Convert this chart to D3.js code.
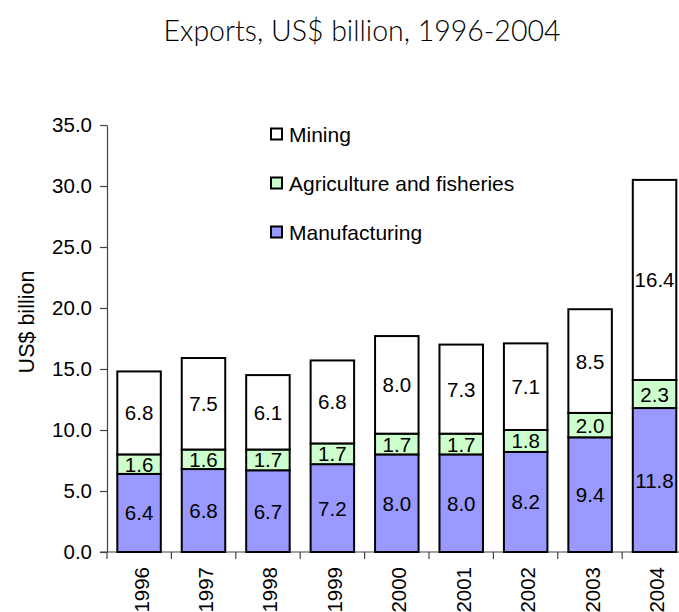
<!DOCTYPE html>
<html>
<head>
<meta charset="utf-8">
<script src="https://cdn.jsdelivr.net/npm/d3@7"></script>
<style>
  html, body { margin: 0; padding: 0; background: #fff; }
  svg { display: block; }
</style>
</head>
<body>
<svg id="chart" width="679" height="612"></svg>
<script>
// Export values by sector, US$ billion
const years = ["1996", "1997", "1998", "1999", "2000", "2001", "2002", "2003", "2004"];
const manufacturing = [6.4, 6.8, 6.7, 7.2, 8.0, 8.0, 8.2, 9.4, 11.8];
const agriculture = [1.6, 1.6, 1.7, 1.7, 1.7, 1.7, 1.8, 2.0, 2.3];
const mining = [6.8, 7.5, 6.1, 6.8, 8.0, 7.3, 7.1, 8.5, 16.4];
const yTicks = [0, 5, 10, 15, 20, 25, 30, 35];

const seriesNames = ["Manufacturing", "Agriculture and fisheries", "Mining"];
const seriesColors = ["#9999FF", "#CCFFCC", "#FFFFFF"];
const legendOrder = ["Mining", "Agriculture and fisheries", "Manufacturing"];

const rows = years.map((y, i) => ({
  year: y,
  "Manufacturing": manufacturing[i],
  "Agriculture and fisheries": agriculture[i],
  "Mining": mining[i]
}));

const svg = d3.select("#chart");
const font = "'Liberation Sans', Arial, sans-serif";
const fs = "20.5px";

const x0 = 107, yBottom = 552, yTop = 125;
const band = 64.4;
const x = d3.scaleBand().domain(years).range([x0, x0 + band * years.length]).paddingInner(0.325).paddingOuter(0.16);
const y = d3.scaleLinear().domain([0, 35]).range([yBottom, yTop]);
const color = d3.scaleOrdinal().domain(seriesNames).range(seriesColors);

const stacked = d3.stack().keys(seriesNames)(rows);

// Title
svg.append("text")
  .attr("x", 362).attr("y", 41)
  .attr("text-anchor", "middle")
  .style("font-family", "Lato, 'Open Sans', sans-serif")
  .style("font-weight", 300)
  .style("font-size", "28.5px")
  .attr("fill", "#000")
  .text("Exports, US$ billion, 1996-2004");

// Y axis
const yAxis = svg.append("g")
  .attr("transform", `translate(${x0},0)`)
  .call(d3.axisLeft(y).tickValues(yTicks).tickFormat(d3.format(".1f")).tickSize(7).tickSizeOuter(0));
yAxis.select(".domain").attr("stroke", "#444").attr("stroke-width", 1.2);
yAxis.selectAll(".tick line").attr("stroke", "#444").attr("stroke-width", 1.2);
yAxis.selectAll(".tick text")
  .attr("x", -15)
  .style("font-family", font).style("font-size", fs).attr("fill", "#000");

// X axis with ticks between categories
const xAxisG = svg.append("g");
xAxisG.append("line")
  .attr("x1", x0 - 7).attr("x2", x0 + band * years.length)
  .attr("y1", yBottom).attr("y2", yBottom)
  .attr("stroke", "#444").attr("stroke-width", 1.2);
xAxisG.selectAll("line.sep")
  .data(d3.range(years.length + 1))
  .join("line")
  .attr("class", "sep")
  .attr("x1", i => x0 + band * i).attr("x2", i => x0 + band * i)
  .attr("y1", yBottom).attr("y2", yBottom + 7)
  .attr("stroke", "#444").attr("stroke-width", 1.2);
xAxisG.selectAll("text")
  .data(years)
  .join("text")
  .attr("transform", d => `translate(${x(d) + x.bandwidth() / 2 + 2},${yBottom + 15}) rotate(-90)`)
  .attr("text-anchor", "end")
  .attr("dominant-baseline", "central")
  .style("font-family", font).style("font-size", fs)
  .text(d => d);

// Y axis title
svg.append("text")
  .attr("transform", `translate(34,322) rotate(-90)`)
  .attr("text-anchor", "middle")
  .style("font-family", font).style("font-size", "21.5px")
  .text("US$ billion");

// Stacked bars
const layers = svg.append("g").selectAll("g")
  .data(stacked)
  .join("g")
  .attr("fill", d => color(d.key));

layers.selectAll("rect")
  .data(d => d)
  .join("rect")
  .attr("x", d => x(d.data.year))
  .attr("width", x.bandwidth())
  .attr("y", d => y(d[1]))
  .attr("height", d => y(d[0]) - y(d[1]))
  .attr("stroke", "#000")
  .attr("stroke-width", 2);

// Segment value labels
layers.selectAll("text")
  .data(d => d.map(v => ({ v, key: d.key })))
  .join("text")
  .attr("x", d => x(d.v.data.year) + x.bandwidth() / 2)
  .attr("y", d => (y(d.v[0]) + y(d.v[1])) / 2)
  .attr("text-anchor", "middle")
  .attr("dominant-baseline", "central")
  .attr("fill", "#000")
  .style("font-family", font).style("font-size", fs)
  .text(d => d3.format(".1f")(d.v.data[d.key]));

// Legend
const legend = svg.append("g");
const legendY = d3.scalePoint().domain(legendOrder).range([134, 232]);
legendOrder.forEach(name => {
  const g = legend.append("g").attr("transform", `translate(271,${legendY(name)})`);
  g.append("rect")
    .attr("x", 0).attr("y", -5.5).attr("width", 11).attr("height", 11)
    .attr("fill", color(name)).attr("stroke", "#000").attr("stroke-width", 2);
  g.append("text")
    .attr("x", 18).attr("y", 0)
    .attr("dominant-baseline", "central")
    .style("font-family", font).style("font-size", "21px")
    .text(name);
});
</script>
</body>
</html>
